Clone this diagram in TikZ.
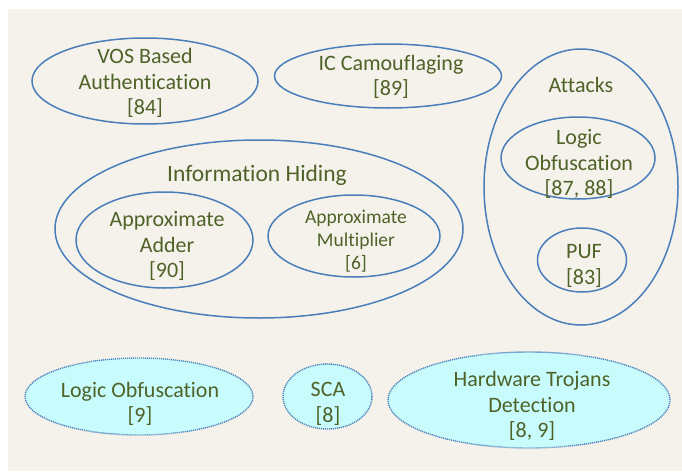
\documentclass[tikz,border=0pt]{standalone}
\usepackage{fontspec}
\setmainfont{Carlito}[Ligatures=NoCommon]
\usepackage{tikz}
\usetikzlibrary{shapes.geometric}
\definecolor{paper}{HTML}{F4F2EA}
\definecolor{rimblue}{HTML}{4A7EBB}
\definecolor{olive}{HTML}{4F6228}
\definecolor{skycyan}{HTML}{C8FCFC}
\tikzstyle{oval} = [ellipse, draw=rimblue, line width=1.5pt, inner sep=0pt]
\tikzstyle{dotoval} = [ellipse, draw=rimblue, fill=skycyan, line width=1.4pt,
    dash pattern=on 1.1pt off 0.9pt, inner sep=0pt]
\tikzstyle{lbl} = [text=olive, align=center, inner sep=0pt,
    font=\fontsize{22}{25.5}\selectfont]
\tikzstyle{small} = [lbl, font=\fontsize{19.5}{23}\selectfont]
\tikzstyle{title} = [lbl, font=\fontsize{23.5}{27}\selectfont]

\begin{document}
\begin{tikzpicture}[x=1pt, y=-1pt]
    \useasboundingbox (0,0) rectangle (682,471);
    \fill[white] (0,0) rectangle (682,471);
    \fill[paper] (8,9) rectangle (682,471);

    % Place ovals
    \node [oval, minimum width=226, minimum height=86] (vos) at (145,81) {};
    \node [oval, minimum width=227, minimum height=64] (camo) at (388,76) {};
    \node [oval, minimum width=194, minimum height=276] (attacks) at (581,187) {};
    \node [oval, minimum width=154, minimum height=82] (logic) at (578,158) {};
    \node [oval, minimum width=89, minimum height=64] (puf) at (582,260) {};
    \node [oval, minimum width=408, minimum height=178] (hiding) at (259,229) {};
    \node [oval, minimum width=177, minimum height=96] (adder) at (164.5,240) {};
    \node [oval, minimum width=172, minimum height=82] (mult) at (354,236) {};
    \node [dotoval, minimum width=228, minimum height=77] (logicb) at (139,396.5) {};
    \node [dotoval, minimum width=89, minimum height=65] (sca) at (327.5,396.5) {};
    \node [dotoval, minimum width=282, minimum height=96] (trojan) at (529,400) {};

    % Place texts
    \node [lbl] (vosT) at (145,83) {VOS Based\\Authentication\\{[84]}};
    \node [lbl] (camoT) at (391,77) {IC Camouflaging\\{[89]}};
    \node [lbl] (attacksT) at (581,85) {Attacks};
    \node [lbl] (logicT) at (579,164) {Logic\\Obfuscation\\{[87, 88]}};
    \node [lbl] (pufT) at (584,266) {PUF\\{[83]}};
    \node [title] (hidingT) at (257,175) {Information Hiding};
    \node [lbl] (adderT) at (167,246) {Approximate\\Adder\\{[90]}};
    \node [small] (multT) at (356,241) {Approximate\\Multiplier\\{[6]}};
    \node [lbl] (logicbT) at (140,404) {Logic Obfuscation\\{[9]}};
    \node [lbl] (scaT) at (328,404) {SCA\\{[8]}};
    \node [lbl] (trojanT) at (532,406) {Hardware Trojans\\Detection\\{[8, 9]}};
\end{tikzpicture}
\end{document}
